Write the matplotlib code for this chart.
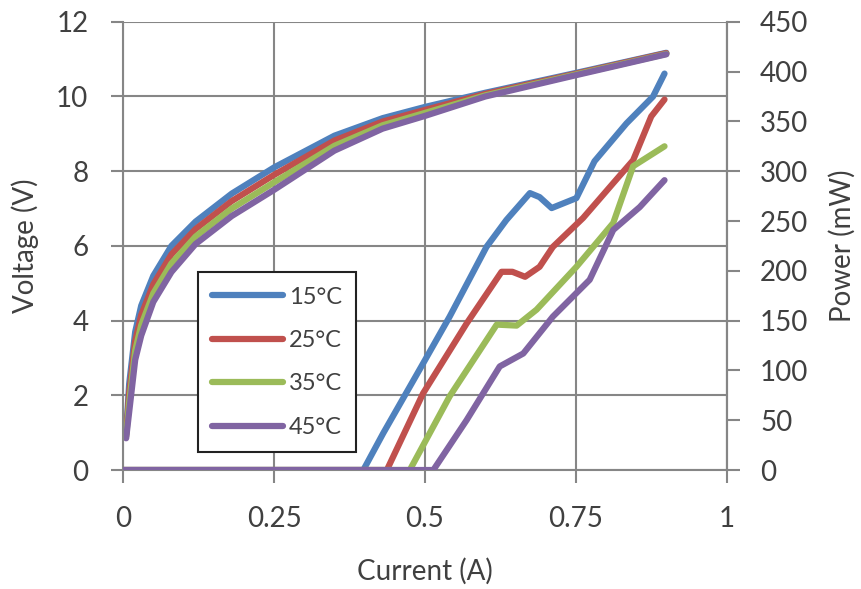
import numpy as np
import matplotlib
matplotlib.use("Agg")
import matplotlib.pyplot as plt

plt.rcParams['font.family'] = ['Lato', 'DejaVu Sans']

labels = ['15°C', '25°C', '35°C', '45°C']
colors = ['#4F81BD', '#C0504D', '#9BBB59', '#8064A2']

# voltage vs current (left axis)
i_v = [0.005, 0.01, 0.02, 0.03, 0.05, 0.08, 0.12, 0.18, 0.25, 0.35, 0.43, 0.5, 0.6, 0.75, 0.9]
v_15 = [1.0, 2.3, 3.7, 4.4, 5.2, 6.0, 6.65, 7.4, 8.1, 8.95, 9.42, 9.72, 10.1, 10.63, 11.17]
v_25 = [0.95, 2.05, 3.45, 4.15, 4.97, 5.77, 6.45, 7.2, 7.9, 8.82, 9.33, 9.64, 10.07, 10.61, 11.16]
v_35 = [0.9, 1.8, 3.2, 3.88, 4.73, 5.53, 6.25, 7.0, 7.7, 8.68, 9.23, 9.56, 10.03, 10.59, 11.14]
v_45 = [0.85, 1.55, 2.95, 3.6, 4.5, 5.3, 6.05, 6.8, 7.5, 8.55, 9.14, 9.48, 10.0, 10.57, 11.13]

# optical power vs current (right axis, mW)
i_p15 = [0, 0.398, 0.431, 0.497, 0.541, 0.602, 0.635, 0.674, 0.69, 0.71, 0.751, 0.781, 0.834, 0.878, 0.897]
p_15 = [0, 0, 37, 107, 154, 224, 251, 278, 274, 263, 273, 310, 348, 375, 398]
i_p25 = [0, 0.437, 0.497, 0.569, 0.627, 0.645, 0.666, 0.69, 0.712, 0.762, 0.812, 0.845, 0.875, 0.897]
p_25 = [0, 0, 77, 147, 199, 199, 194, 204, 224, 253, 288, 311, 355, 372]
i_p35 = [0, 0.475, 0.541, 0.619, 0.652, 0.685, 0.751, 0.812, 0.845, 0.897]
p_35 = [0, 0, 74, 146, 145, 161, 204, 248, 305, 325]
i_p45 = [0, 0.514, 0.569, 0.624, 0.663, 0.712, 0.773, 0.812, 0.856, 0.897]
p_45 = [0, 0, 50, 104, 117, 154, 191, 241, 264, 291]

volts = [v_15, v_25, v_35, v_45]
pow_i = [i_p15, i_p25, i_p35, i_p45]
pows = [p_15, p_25, p_35, p_45]

grey = '#868686'
txt = '#404040'

fig = plt.figure(figsize=(8.61, 5.89), dpi=100)
ax = fig.add_axes([0.143, 0.202, 0.701, 0.761])
ax2 = ax.twinx()

for v, c in zip(volts, colors):
    ax.plot(i_v, v, color=c, lw=4.5, solid_capstyle='round', solid_joinstyle='round')

lines = []
for ip, p, c, lab in zip(pow_i, pows, colors, labels):
    ln, = ax2.plot(ip, p, color=c, lw=4.5, solid_capstyle='round',
                   solid_joinstyle='round', label=lab)
    lines.append(ln)

ax.set_xlim(0, 1)
ax.set_ylim(0, 12)
ax2.set_ylim(0, 450)
ax.set_xticks([0, 0.25, 0.5, 0.75, 1])
ax.set_xticklabels(['0', '0.25', '0.5', '0.75', '1'])
ax.set_yticks(np.arange(0, 13, 2))
ax2.set_yticks(np.arange(0, 451, 50))

ax.grid(True, color=grey, lw=1.5)
ax.set_axisbelow(True)
for a in (ax, ax2):
    for s in a.spines.values():
        s.set_color(grey)
        s.set_linewidth(1.5)
    a.spines['top'].set_visible(False)
ax2.spines['left'].set_visible(False)
ax2.spines['bottom'].set_visible(False)

ax.tick_params(axis='both', colors=grey, labelcolor=txt, labelsize=20,
               length=9, width=1.5, direction='out')
ax.tick_params(axis='y', pad=16)
ax.tick_params(axis='x', pad=17)
ax2.tick_params(axis='y', colors=grey, labelcolor=txt, labelsize=20,
                length=9, width=1.5, direction='out', pad=15)

ax.set_xlabel('Current (A)', fontsize=20, color=txt)
ax.set_ylabel('Voltage (V)', fontsize=20, color=txt)
ax2.set_ylabel('Power (mW)', fontsize=20, color=txt)
ax.xaxis.set_label_coords(0.5, -0.195)
ax.yaxis.set_label_coords(-0.14, 0.5)
ax2.yaxis.set_label_coords(1.17, 0.5)

leg = ax2.legend(handles=lines, loc='lower left', bbox_to_anchor=(0.124, 0.04),
                 borderaxespad=0, fontsize=17, handlelength=3.0, labelspacing=0.95,
                 handletextpad=0.25, borderpad=0.6, fancybox=False, framealpha=1,
                 edgecolor='#222222')
leg.get_frame().set_linewidth(1.5)
for t in leg.get_texts():
    t.set_color(txt)

fig.savefig('out.png', dpi=100)
